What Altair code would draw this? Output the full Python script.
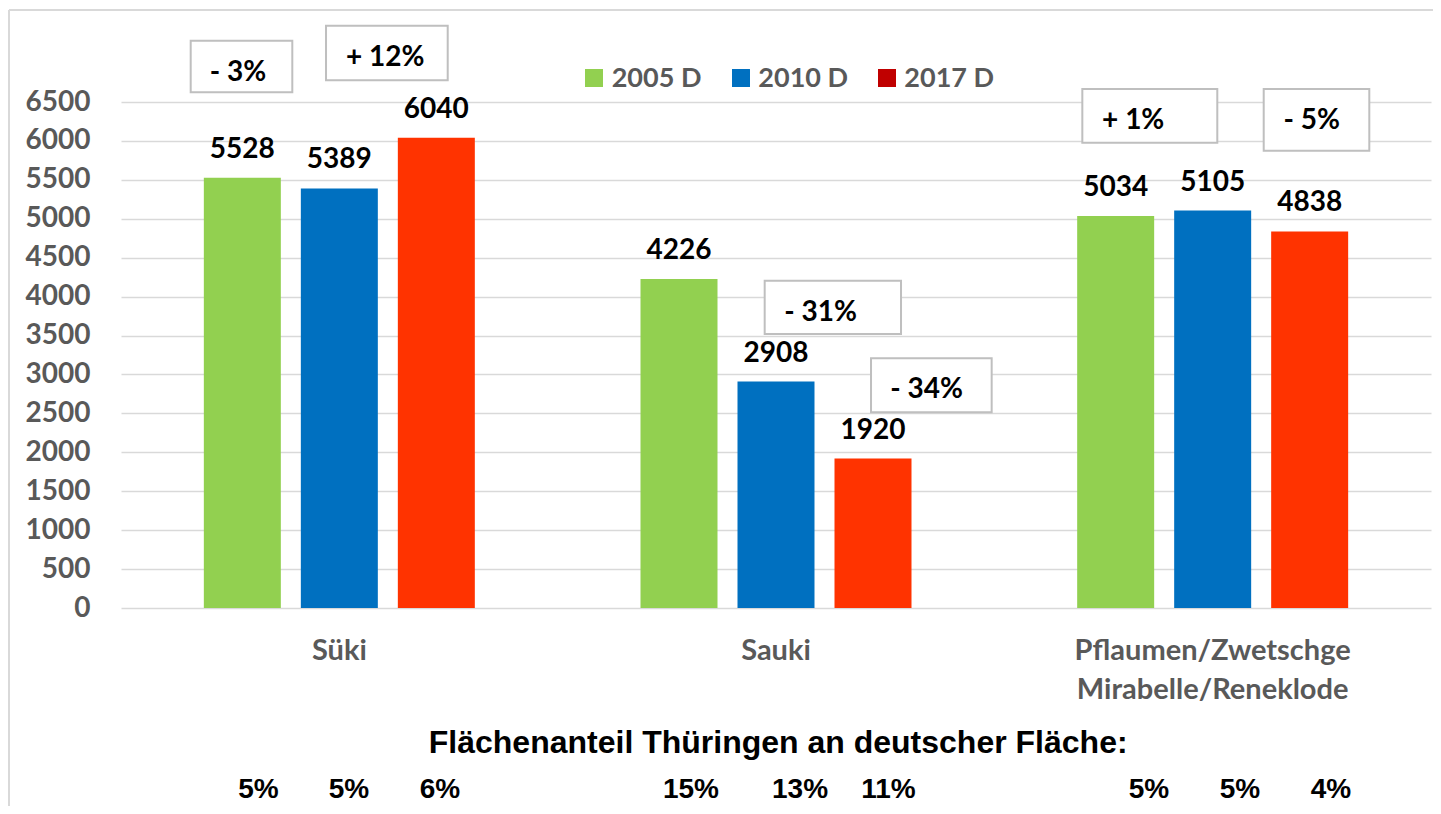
import altair as alt
import pandas as pd

# ---------------- data ----------------
categories = ["Süki", "Sauki", "Pflaumen/Zwetschge\nMirabelle/Reneklode"]
series = ["2005 D", "2010 D", "2017 D"]
values_2005 = [5528, 4226, 5034]
values_2010 = [5389, 2908, 5105]
values_2017 = [6040, 1920, 4838]
y_ticks = [0, 500, 1000, 1500, 2000, 2500, 3000, 3500, 4000, 4500, 5000, 5500, 6000, 6500]

change_labels = ["- 3%", "+ 12%", "- 31%", "- 34%", "+ 1%", "- 5%"]
share_labels = ["5%", "5%", "6%", "15%", "13%", "11%", "5%", "5%", "4%"]
share_title = "Flächenanteil Thüringen an deutscher Fläche:"

# ---------------- styles ----------------
bar_colors = ["#92D050", "#0070C0", "#FF3300"]
legend_colors = ["#92D050", "#0070C0", "#C00000"]
GRAY = "#595959"
GRID = "#D9D9D9"
CAL = "Lato"
ARIAL = "Liberation Sans"

# ---------------- annotation layout (x in category units 0..3, y in value units) ----------------
box_x1 = [0.1596, 0.4695, 1.4741, 1.7176, 2.2015, 2.6169]
box_x2 = [0.3923, 0.7482, 1.7863, 1.9939, 2.5106, 2.8587]
box_top = [7288, 7480, 4205, 3208, 6667, 6667]
box_bottom = [6625, 6779, 3520, 2514, 5977, 5875]
change_x = [0.2679, 0.6053, 1.6019, 1.8447, 2.3180, 2.7268]
change_y = [6770, 6963, 3691, 2694, 6149, 6149]

legend_sq_x = [1.0832, 1.4198, 1.7542]
legend_sq_y = 6808
legend_lab_x = [1.1237, 1.4595, 1.7939]
legend_lab_y = 6697

title_x = 1.505
title_y = -1867
share_x = [0.3149, 0.5221, 0.7305, 1.3053, 1.5550, 1.7576, 2.3542, 2.5626, 2.7710]
share_y = -2445

# ---------------- tables ----------------
rows = []
for i, c in enumerate(categories):
    for s, vals in zip(series, [values_2005, values_2010, values_2017]):
        rows.append({"cat": c, "series": s, "value": vals[i]})
bars_df = pd.DataFrame(rows)

boxes_df = pd.DataFrame({"x1": box_x1, "x2": box_x2, "y1": box_top, "y2": box_bottom})
change_df = pd.DataFrame({"u": change_x, "v": change_y, "t": change_labels})
leg_sq_df = pd.DataFrame({"u": legend_sq_x, "v": [legend_sq_y] * 3, "c": legend_colors})
leg_lab_df = pd.DataFrame({"u": legend_lab_x, "v": [legend_lab_y] * 3, "t": series})
title_df = pd.DataFrame({"u": [title_x], "v": [title_y], "t": [share_title]})
share_df = pd.DataFrame({"u": share_x, "v": [share_y] * len(share_x), "t": share_labels})

yscale = alt.Scale(domain=[0, 6500], nice=False, zero=True)
uscale = alt.Scale(domain=[0, 3], nice=False, zero=False)
yaxis = alt.Axis(
    title=None, values=y_ticks, format="d", ticks=False, tickSize=0, domain=False,
    grid=True, gridColor=GRID, gridWidth=1.5,
    labelFont=CAL, labelFontSize=28, labelFontWeight="bold", labelColor=GRAY,
    labelPadding=31,
)

x_band = alt.X(
    "cat:N", sort=categories,
    scale=alt.Scale(paddingInner=0, paddingOuter=0),
    axis=alt.Axis(
        title=None, labelAngle=0, ticks=False, tickSize=0, domain=False, grid=False,
        labelFont=CAL, labelFontSize=29, labelFontWeight="bold", labelColor=GRAY,
        labelBaseline="alphabetic", labelPadding=51, labelLineHeight=39,
        labelExpr="split(datum.label, '\\n')", labelLimit=0,
    ),
)
x_off = alt.XOffset("series:N", sort=series,
                    scale=alt.Scale(paddingInner=0.2062, paddingOuter=0.854))


def yenc(field):
    return alt.Y(field, scale=yscale, axis=yaxis)


bars = alt.Chart(bars_df).mark_bar().encode(
    x=x_band,
    xOffset=x_off,
    y=yenc("value:Q"),
    color=alt.Color("series:N", sort=series,
                    scale=alt.Scale(domain=series, range=bar_colors), legend=None),
)

value_labels = alt.Chart(bars_df).mark_text(
    font=CAL, fontSize=28, fontWeight="bold", color="black",
    baseline="alphabetic", dy=-20,
).encode(
    x=alt.X("cat:N", sort=categories, scale=alt.Scale(paddingInner=0, paddingOuter=0), axis=None),
    xOffset=x_off,
    y=yenc("value:Q"),
    text=alt.Text("value:Q", format="d"),
)

boxes = alt.Chart(boxes_df).mark_rect(fill="white", stroke="#BFBFBF", strokeWidth=2).encode(
    x=alt.X("x1:Q", scale=uscale, axis=None),
    x2="x2:Q",
    y=yenc("y1:Q"),
    y2="y2:Q",
)

change_text = alt.Chart(change_df).mark_text(
    font=CAL, fontSize=28, fontWeight="bold", color="black", baseline="alphabetic", align="center",
).encode(
    x=alt.X("u:Q", scale=uscale, axis=None),
    y=yenc("v:Q"),
    text="t:N",
)

legend_sq = alt.Chart(leg_sq_df).mark_point(shape="square", filled=True, size=324, opacity=1).encode(
    x=alt.X("u:Q", scale=uscale, axis=None),
    y=yenc("v:Q"),
    color=alt.Color("c:N", scale=None),
)

legend_lab = alt.Chart(leg_lab_df).mark_text(
    font=CAL, fontSize=27, fontWeight="bold", color=GRAY, baseline="alphabetic", align="left",
).encode(
    x=alt.X("u:Q", scale=uscale, axis=None),
    y=yenc("v:Q"),
    text="t:N",
)

title_text = alt.Chart(title_df).mark_text(
    font=ARIAL, fontSize=32, fontWeight="bold", color="black", baseline="alphabetic", align="center",
).encode(
    x=alt.X("u:Q", scale=uscale, axis=None),
    y=yenc("v:Q"),
    text="t:N",
)

share_text = alt.Chart(share_df).mark_text(
    font=ARIAL, fontSize=28, fontWeight="bold", color="black", baseline="alphabetic", align="center",
).encode(
    x=alt.X("u:Q", scale=uscale, axis=None),
    y=yenc("v:Q"),
    text="t:N",
)

frame_left = alt.Chart(title_df).mark_rule(color=GRID, strokeWidth=2).encode(
    x=alt.value(-112), y=alt.value(-92), y2=alt.value(720),
)
frame_top = alt.Chart(title_df).mark_rule(color=GRID, strokeWidth=2).encode(
    x=alt.value(-112), x2=alt.value(1330), y=alt.value(-92),
)

chart = alt.layer(
    bars, value_labels, boxes, change_text, legend_sq, legend_lab,
    title_text, share_text, frame_left, frame_top,
).resolve_scale(x="independent").properties(
    width=1310, height=506,
    autosize=alt.AutoSizeParams(type="none"),
    padding={"left": 113, "top": 94, "right": 2, "bottom": 198},
    background="white",
).configure_view(stroke=None)

chart.save("out.html", embed_options={"renderer": "svg", "actions": False})
